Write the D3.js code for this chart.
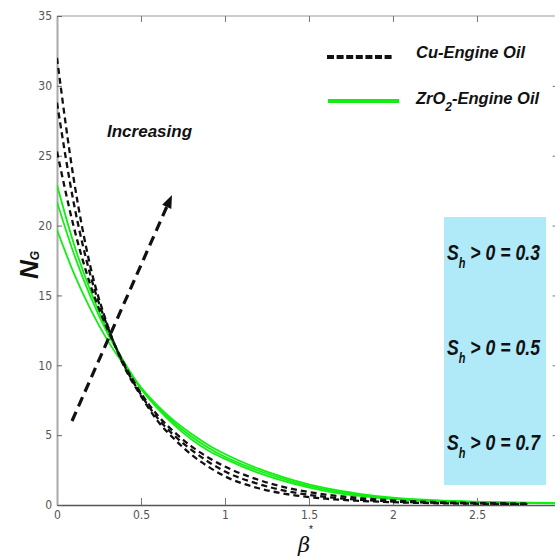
<!DOCTYPE html>
<html><head><meta charset="utf-8">
<script src="https://cdn.jsdelivr.net/npm/d3@7"></script>
<style>body{margin:0;background:#fff}svg{display:block}</style>
</head><body><svg id="c" width="555" height="559"></svg>
<script>
// beta* grid
const beta = [0,0.1,0.2,0.3,0.4,0.5,0.6,0.7,0.8,0.9,1.0,1.2,1.4,1.6,1.8,2.0,2.3,2.6,2.8];
const betaG = [0,0.1,0.2,0.3,0.4,0.5,0.6,0.7,0.8,0.9,1.0,1.2,1.4,1.6,1.8,2.0,2.3,2.6,2.98];
// Cu-Engine Oil (dashed black)
const cu1 = [32,23.3,17.0,12.9,9.9,7.8,6.0,4.7,3.6,2.75,2.05,1.2,0.72,0.45,0.3,0.2,0.12,0.08,0.06];
const cu2 = [28.8,21.6,16.4,12.8,10.0,7.9,6.2,4.95,3.95,3.1,2.4,1.5,0.92,0.58,0.38,0.25,0.15,0.1,0.07];
const cu3 = [25.3,19.9,15.7,12.6,10.1,8.0,6.4,5.2,4.2,3.4,2.75,1.8,1.15,0.75,0.5,0.33,0.19,0.12,0.09];
// ZrO2-Engine Oil (green)
const zr1 = [22.9,18.7,15.3,12.5,10.2,8.3,6.9,5.7,4.7,3.9,3.3,2.3,1.55,1.0,0.65,0.42,0.25,0.17,0.12];
const zr2 = [21.7,18.0,14.9,12.3,10.2,8.4,7.0,5.85,4.9,4.1,3.45,2.45,1.68,1.1,0.72,0.47,0.28,0.19,0.13];
const zr3 = [19.7,16.6,14.0,11.8,10.0,8.4,7.1,6.0,5.1,4.3,3.65,2.6,1.8,1.2,0.8,0.52,0.31,0.21,0.14];
const xTicks = [0,0.5,1,1.5,2,2.5];
const xTickLabels = ["0","0.5","1","1.5","2","2.5"];
const yTicks = [0,5,10,15,20,25,30,35];
const shLabels = ["0.3","0.5","0.7"];
const legendLabels = ["Cu-Engine Oil","ZrO","-Engine Oil"];

const svg = d3.select("#c");
const L=57, R=557.6, T=16, B=505;
const x = d3.scaleLinear().domain([0,2.98]).range([L,R]);
const y = d3.scaleLinear().domain([0,35]).range([B,T]);
const numFont = "'DejaVu Sans',sans-serif";
const boldFont = "'Liberation Sans',Arial,sans-serif";

svg.append("defs").append("clipPath").attr("id","clip")
  .append("rect").attr("x",L).attr("y",T).attr("width",R-L).attr("height",B-T);

// frame
svg.append("line").attr("x1",L).attr("x2",R).attr("y1",T).attr("y2",T).attr("stroke","#999").attr("stroke-width",1.2);
svg.append("line").attr("x1",R).attr("x2",R).attr("y1",T).attr("y2",B).attr("stroke","#999");

// axes
const xAxis = d3.axisBottom(x).tickValues(xTicks).tickFormat((d,i)=>xTickLabels[i]).tickSizeInner(-7).tickSizeOuter(0).tickPadding(5);
const gx = svg.append("g").attr("transform",`translate(0,${B})`).call(xAxis);
gx.select(".domain").attr("stroke","#555").attr("stroke-width",1.5);
gx.selectAll(".tick line").attr("stroke","#777");
gx.selectAll("text").attr("font-family",numFont).attr("font-stretch","condensed").attr("font-size",12).attr("fill","#555");

const xTop = d3.axisTop(x).tickValues(xTicks.slice(1)).tickSizeInner(-6).tickSizeOuter(0).tickFormat("");
const gxt = svg.append("g").attr("transform",`translate(0,${T})`).call(xTop);
gxt.select(".domain").remove();
gxt.selectAll(".tick line").attr("stroke","#777");

const yAxis = d3.axisLeft(y).tickValues(yTicks).tickSizeInner(-5).tickSizeOuter(0).tickPadding(5);
const gy = svg.append("g").attr("transform",`translate(${L},0)`).call(yAxis);
gy.select(".domain").attr("stroke","#aaa").attr("stroke-width",2);
gy.selectAll(".tick line").attr("stroke","#666");
gy.selectAll("text").attr("font-family",numFont).attr("font-stretch","condensed").attr("font-size",12).attr("fill","#555");

const yR = d3.axisRight(y).tickValues(yTicks.slice(1,-1)).tickSizeInner(-5).tickSizeOuter(0).tickFormat("");
const gyr = svg.append("g").attr("transform",`translate(${R},0)`).call(yR);
gyr.select(".domain").remove();
gyr.selectAll(".tick line").attr("stroke","#777");

// annotation box
svg.append("rect").attr("x",444).attr("y",217).attr("width",102).attr("height",268).attr("fill","#b0e9f8");

// curves
const line = d3.line().x(d=>x(d[0])).y(d=>y(d[1])).curve(d3.curveMonotoneX);
const gc = svg.append("g").attr("clip-path","url(#clip)");
[zr1,zr2,zr3].forEach(s=>{
  gc.append("path").attr("d",line(betaG.map((b,i)=>[b,s[i]]))).attr("fill","none")
    .attr("stroke","#11ee11").attr("stroke-width",1.8);
});
[cu1,cu2,cu3].forEach(s=>{
  gc.append("path").attr("d",line(beta.map((b,i)=>[b,s[i]]))).attr("fill","none")
    .attr("stroke","#111").attr("stroke-width",2.3).attr("stroke-dasharray","6,4");
});

// arrow
const ax1=72, ay1=421, ax2=172, ay2=195;
const dx=ax2-ax1, dy=ay2-ay1, len=Math.hypot(dx,dy), ux=dx/len, uy=dy/len;
const hl=13, hw=5;
svg.append("line").attr("x1",ax1).attr("y1",ay1).attr("x2",ax2-ux*hl).attr("y2",ay2-uy*hl)
  .attr("stroke","#111").attr("stroke-width",3.2).attr("stroke-dasharray","10,6");
const bx=ax2-ux*hl, by=ay2-uy*hl;
svg.append("path").attr("d",`M${ax2},${ay2}L${bx-uy*hw},${by+ux*hw}L${bx+uy*hw},${by-ux*hw}Z`).attr("fill","#111");

svg.append("text").attr("x",107).attr("y",137).attr("font-family",boldFont).attr("font-weight","bold")
  .attr("font-style","italic").attr("font-size",17).attr("fill","#111").text("Increasing");

// legend
svg.append("line").attr("x1",327).attr("x2",393).attr("y1",57).attr("y2",57).attr("stroke","#111")
  .attr("stroke-width",4).attr("stroke-dasharray","7,2.6");
svg.append("line").attr("x1",328).attr("x2",399).attr("y1",101).attr("y2",101).attr("stroke","#11ee11").attr("stroke-width",4);
svg.append("text").attr("x",416).attr("y",58).attr("font-family",boldFont).attr("font-weight","bold")
  .attr("font-style","italic").attr("font-size",16.5).attr("fill","#111").text(legendLabels[0]);
const t2 = svg.append("text").attr("x",416).attr("y",104).attr("font-family",boldFont).attr("font-weight","bold")
  .attr("font-style","italic").attr("font-size",16.5).attr("fill","#111");
t2.append("tspan").text(legendLabels[1]);
t2.append("tspan").attr("font-size",12).attr("dy",7).text("2");
t2.append("tspan").attr("dy",-7).text(legendLabels[2]);

// Sh labels
const shY=[260,355,450];
shLabels.forEach((v,i)=>{
  const t = svg.append("text").attr("x",0).attr("y",0).attr("font-family",boldFont).attr("font-weight","bold")
    .attr("font-style","italic").attr("font-size",22.5).attr("fill","#111");
  t.append("tspan").text("S");
  t.append("tspan").attr("font-size",14).attr("dy",8).text("h");
  t.append("tspan").attr("dy",-8).text(" > 0 = "+v);
  const w = t.node().getComputedTextLength();
  t.attr("transform",`translate(447,${shY[i]}) scale(${93/w},1)`);
});

// axis titles
const yl = svg.append("text").attr("transform","translate(38,279) rotate(-90)").attr("font-family",boldFont)
  .attr("font-weight","bold").attr("font-style","italic").attr("font-size",26).attr("fill","#111");
yl.append("tspan").text("N");
yl.append("tspan").attr("font-size",12).attr("dy",1).text("G");

svg.append("text").attr("x",298).attr("y",552).attr("font-family","'DejaVu Serif',serif")
  .attr("font-style","italic").attr("font-size",21).attr("fill","#111").text("β");
svg.append("text").attr("x",309).attr("y",533).attr("font-family",boldFont).attr("font-size",10).attr("fill","#111").text("*");
</script></body></html>
